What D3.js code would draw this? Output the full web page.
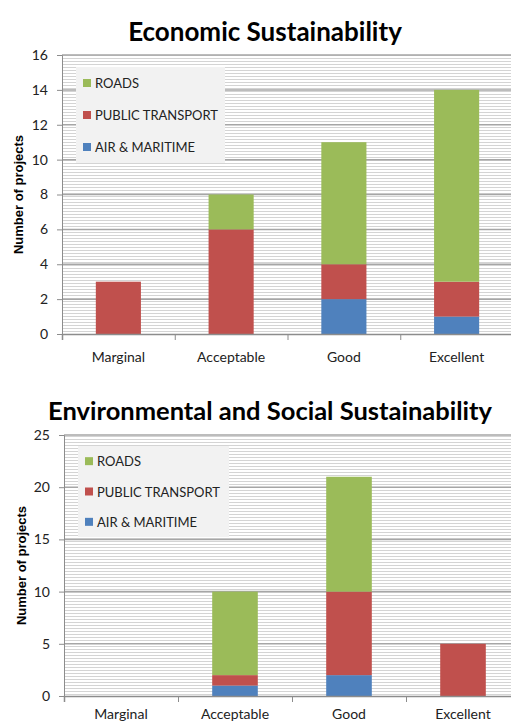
<!DOCTYPE html>
<html>
<head>
<meta charset="utf-8">
<script src="https://cdn.jsdelivr.net/npm/d3@7"></script>
<style>
  body { margin: 0; background: #fff; }
  svg { display: block; }
</style>
</head>
<body>
<svg id="chart" width="511" height="723"></svg>
<script>
// categories and series (bottom to top of each stack)
var ratings = ['Marginal', 'Acceptable', 'Good', 'Excellent'];
var seriesNames = ['AIR & MARITIME', 'PUBLIC TRANSPORT', 'ROADS'];
var seriesColours = ['#4F81BD', '#C0504D', '#9BBB59'];

var econAir = [0, 0, 2, 1];
var econPublic = [3, 6, 2, 2];
var econRoads = [0, 2, 7, 11];
var econTicks = [0, 2, 4, 6, 8, 10, 12, 14, 16];

var envAir = [0, 1, 2, 0];
var envPublic = [0, 1, 8, 5];
var envRoads = [0, 8, 11, 0];
var envTicks = [0, 5, 10, 15, 20, 25];

var svg = d3.select('#chart');

// striped plot background
var defs = svg.append('defs');
var pat = defs.append('pattern')
  .attr('id', 'stripes')
  .attr('patternUnits', 'userSpaceOnUse')
  .attr('width', 4).attr('height', 3);
pat.append('rect').attr('width', 4).attr('height', 3).attr('fill', '#ffffff');
pat.append('rect').attr('y', 1).attr('width', 4).attr('height', 1).attr('fill', '#d4d4d4');

function makeRows(air, pub, roads) {
  return ratings.map(function(r, i) {
    return { rating: r, 'AIR & MARITIME': air[i], 'PUBLIC TRANSPORT': pub[i], 'ROADS': roads[i] };
  });
}

function drawChart(o) {
  var g = svg.append('g');
  var x = d3.scaleBand().domain(ratings).range([o.left, o.right]).paddingInner(0.6).paddingOuter(0.3);
  var xEdge = d3.scaleLinear().domain([0, 4]).range([o.left, o.right]);
  var y = d3.scaleLinear().domain([0, o.max]).range([o.bottom, o.top]);

  // title
  g.append('text')
    .attr('x', o.titleX).attr('y', o.titleY)
    .attr('text-anchor', 'middle')
    .style('font-family', 'Lato, sans-serif')
    .style('font-weight', 'bold')
    .style('font-size', o.titleSize + 'px')
    .text(o.title);

  // plot background
  g.append('rect')
    .attr('x', o.left).attr('y', o.top)
    .attr('width', o.right - o.left).attr('height', o.bottom - o.top)
    .attr('fill', 'url(#stripes)');

  // gridlines
  g.selectAll('.grid').data(o.ticks.filter(function(t) { return t > 0; }))
    .enter().append('line')
    .attr('x1', o.left).attr('x2', o.right)
    .attr('y1', function(d) { return y(d); }).attr('y2', function(d) { return y(d); })
    .attr('stroke', '#a6a6a6').attr('stroke-width', 1.5);

  // legend
  var lg = g.append('g');
  lg.append('rect')
    .attr('x', o.legX).attr('y', o.legY)
    .attr('width', o.legW).attr('height', o.legH)
    .attr('fill', '#f2f2f2');
  var legOrder = seriesNames.slice().reverse();
  legOrder.forEach(function(name, i) {
    var cy = o.legY + o.legH * (i + 0.5) / 3;
    lg.append('rect')
      .attr('x', o.legX + 7).attr('y', cy - 4)
      .attr('width', 8).attr('height', 8)
      .attr('fill', seriesColours[seriesNames.indexOf(name)]);
    lg.append('text')
      .attr('x', o.legX + 19).attr('y', cy + 5)
      .style('font-family', 'Lato, sans-serif')
      .style('font-size', '13px')
      .attr('fill', '#222')
      .text(name);
  });

  // bars
  var stacked = d3.stack().keys(seriesNames)(o.rows);
  g.selectAll('.layer').data(stacked).enter().append('g')
    .attr('fill', function(d, i) { return seriesColours[i]; })
    .selectAll('rect').data(function(d) { return d; })
    .enter().append('rect')
    .attr('x', function(d) { return x(d.data.rating); })
    .attr('width', x.bandwidth())
    .attr('y', function(d) { return y(d[1]); })
    .attr('height', function(d) { return y(d[0]) - y(d[1]); });

  // y axis
  var yAxis = g.append('g')
    .attr('transform', 'translate(' + o.left + ',0)')
    .call(d3.axisLeft(y).tickValues(o.ticks).tickSize(5).tickPadding(9));
  yAxis.select('.domain').attr('stroke', '#8c8c8c');
  yAxis.selectAll('.tick line').attr('stroke', '#8c8c8c');
  yAxis.selectAll('text')
    .style('font-family', 'Lato, sans-serif')
    .style('font-size', '14px')
    .attr('fill', '#222');

  // x axis
  var xAxis = g.append('g')
    .attr('transform', 'translate(0,' + o.bottom + ')')
    .call(d3.axisBottom(xEdge).tickValues([0, 1, 2, 3, 4]).tickSize(6).tickFormat(''));
  xAxis.select('.domain').attr('stroke', '#8c8c8c').attr('stroke-width', 1.5);
  xAxis.selectAll('.tick line').attr('stroke', '#8c8c8c');

  g.selectAll('.cat').data(ratings).enter().append('text')
    .attr('x', function(d) { return x(d) + x.bandwidth() / 2; })
    .attr('y', o.bottom + o.catDy)
    .attr('text-anchor', 'middle')
    .style('font-family', 'Lato, sans-serif')
    .style('font-size', '14px')
    .attr('fill', '#222')
    .text(function(d) { return d; });

  // y axis title
  g.append('text')
    .attr('transform', 'translate(' + o.yLabX + ',' + ((o.top + o.bottom) / 2) + ') rotate(-90)')
    .attr('text-anchor', 'middle')
    .style('font-family', 'Liberation Sans, Arial, sans-serif')
    .style('font-weight', 'bold')
    .style('font-size', '13px')
    .text('Number of projects');
}

drawChart({
  title: 'Economic Sustainability', titleX: 265, titleY: 41, titleSize: 26,
  left: 62, right: 513, top: 55, bottom: 334, max: 16, ticks: econTicks,
  rows: makeRows(econAir, econPublic, econRoads),
  legX: 76, legY: 67, legW: 149, legH: 96,
  catDy: 28, yLabX: 23
});

drawChart({
  title: 'Environmental and Social Sustainability', titleX: 270, titleY: 420, titleSize: 25.5,
  left: 64, right: 520, top: 435, bottom: 696, max: 25, ticks: envTicks,
  rows: makeRows(envAir, envPublic, envRoads),
  legX: 78, legY: 446, legW: 151, legH: 91,
  catDy: 23, yLabX: 26
});
</script>
</body>
</html>
